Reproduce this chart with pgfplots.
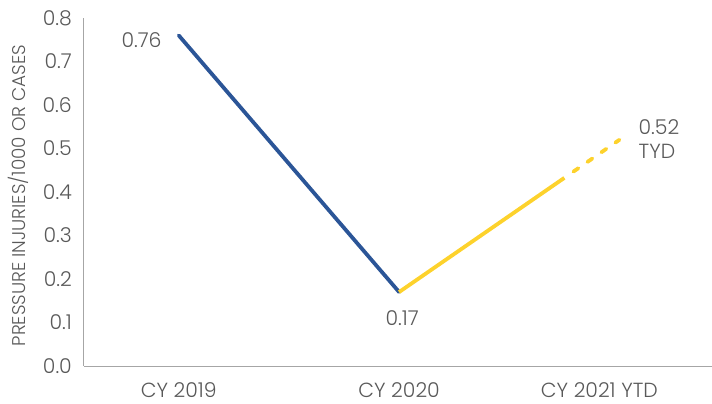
\documentclass[border=0pt]{standalone}
\usepackage{pgfplots}
\pgfplotsset{compat=1.18}
\usepackage{fontspec}
\setmainfont{Poppins Light}
\definecolor{cblue}{HTML}{2B5597}
\definecolor{cyellow}{HTML}{FDD22C}
\definecolor{ctext}{HTML}{595959}
\definecolor{caxis}{HTML}{A6A6A6}
\begin{document}
\begin{tikzpicture}[font=\fontsize{20.5}{24}\selectfont\color{ctext}]
\useasboundingbox (-84bp,-38bp) rectangle (628bp,366bp);
\begin{axis}[
  at={(0,0)}, anchor=south west,
  scale only axis,
  width=628bp, height=348bp,
  xmin=-0.43, xmax=2.42,
  ymin=0, ymax=0.8,
  axis x line=bottom, axis y line=left,
  axis line style={-, caxis, line width=1bp},
  xtick={0,1,1.909},
  xticklabels={CY 2019, CY 2020, CY 2021 YTD},
  ytick={0,0.1,...,0.8},
  major tick length=0pt,
  tick style={draw=none},
  /pgf/number format/fixed,
  /pgf/number format/fixed zerofill,
  /pgf/number format/precision=1,
  /pgf/number format/assume math mode=true,
  ticklabel style={color=ctext, font=\fontsize{20.5}{24}\selectfont, inner sep=0pt},
  xticklabel style={anchor=base, yshift=-31bp},
  yticklabel style={anchor=east, xshift=-12bp},
  ylabel={PRESSURE INJURIES/1000 OR CASES},
  ylabel style={color=ctext, font=\fontsize{18.5}{22}\selectfont, at={(axis description cs:-0.105,0.49)}, anchor=center},
  clip=false,
]
\addplot[cblue, line width=3.8bp, line cap=round] coordinates {(0,0.76) (1,0.17)};
\addplot[cyellow, line width=3.8bp, line cap=butt] coordinates {(1,0.17) (1.75,0.4325)};
\addplot[cyellow, line width=3.8bp, line cap=round, dash pattern=on 6bp off 11bp, dash phase=6bp] coordinates {(1.75,0.4325) (2,0.52)};
\node[anchor=base east, inner sep=0pt, xshift=-17bp, yshift=-12bp] at (axis cs:0,0.76) {0.76};
\node[anchor=base, inner sep=0pt, xshift=3bp, yshift=-33bp] at (axis cs:1,0.17) {0.17};
\node[anchor=base west, inner sep=0pt, xshift=19bp, yshift=5bp] at (axis cs:2,0.52) {0.52};
\node[anchor=base west, inner sep=0pt, xshift=19bp, yshift=-19bp] at (axis cs:2,0.52) {TYD};
\end{axis}
\end{tikzpicture}
\end{document}
